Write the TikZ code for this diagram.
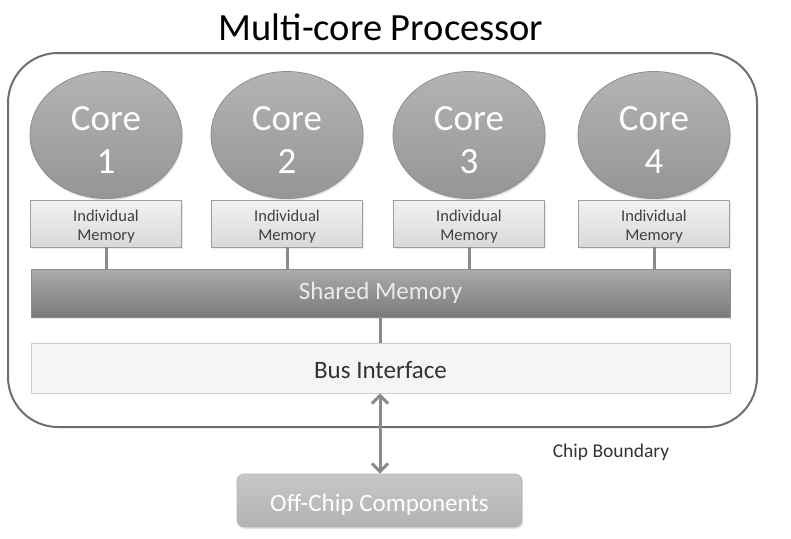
\documentclass[tikz,border=0pt]{standalone}
\usepackage{fontspec}
\setmainfont{Carlito}
\usetikzlibrary{shapes.geometric,arrows.meta,shadows}
\definecolor{coregray}{HTML}{A6A6A6}
\definecolor{edgegray}{HTML}{8E8E8E}
\definecolor{linegray}{HTML}{8A8A8A}
\definecolor{framegray}{HTML}{6E6E6E}
\newcommand{\lowered}[2]{\raisebox{#1}[\height][\depth]{#2}}
\newcommand{\twolines}[3]{\lowered{#1}{\begin{tabular}{@{}c@{}}#2\\#3\end{tabular}}}
\begin{document}
\begin{tikzpicture}[x=1pt, y=-1pt, line join=round,
		core/.style={ellipse, minimum width=152pt, minimum height=127pt, inner sep=0pt,
			top color=coregray!85!white, bottom color=coregray!90!black, draw=edgegray, line width=0.8pt,
			text=white, font=\fontsize{37}{43}\selectfont,
			drop shadow={opacity=0.2, shadow xshift=1pt, shadow yshift=-2pt}},
		membox/.style={rectangle, minimum width=151pt, minimum height=47pt, inner sep=0pt,
			top color=white!95!black, bottom color=white!85!black, draw=white!62!black, line width=0.8pt,
			text=black!75, font=\fontsize{16.5}{18.5}\selectfont,
			drop shadow={opacity=0.15, shadow xshift=1pt, shadow yshift=-2pt}},
		link/.style={linegray, line width=3pt}]
	\useasboundingbox (0,0) rectangle (791,538);
	% chip boundary
	\draw[framegray, line width=2pt, rounded corners=50pt] (8,53) rectangle (757,427);
	\node (title) at (381,27) {\fontsize{38.5}{44}\selectfont Multi-core Processor};
	% cores and their own memories
	\foreach \i/\x in {1/106, 2/287, 3/469, 4/654} {
		\node[core] (core\i) at (\x,135) {\twolines{-8pt}{Core}{\i}};
		\node[membox] (mem\i) at (\x,223.5) {\twolines{-4pt}{Individual}{Memory}};
	}
	\node[rectangle, minimum width=699pt, minimum height=48pt, inner sep=0pt,
		top color=black!33, bottom color=black!52, draw=black!45, line width=0.8pt,
		text=white!92!black, font=\fontsize{25}{30}\selectfont,
		drop shadow={opacity=0.2, shadow xshift=1pt, shadow yshift=-2pt}] (shared) at (380.5,293) {Shared Memory};
	\node[rectangle, minimum width=699pt, minimum height=50pt, inner sep=0pt,
		fill=white!96!black, draw=white!80!black, line width=0.8pt,
		text=black!80, font=\fontsize{25}{30}\selectfont] (bus) at (380.5,368) {\lowered{-2pt}{Bus Interface}};
	\foreach \i in {1,...,4}
		\draw[link] (mem\i.south) -- (mem\i.south |- shared.north);
	\draw[link] (shared.south -| 380,0) -- (bus.north -| 380,0);
	% off the chip
	\node[rectangle, rounded corners=7pt, minimum width=285pt, minimum height=53pt, inner sep=0pt,
		top color=black!22, bottom color=black!30, draw=black!28, line width=0.8pt,
		text=white, font=\fontsize{25}{30}\selectfont,
		drop shadow={opacity=0.2, shadow xshift=1pt, shadow yshift=-2pt}] (offchip) at (379.5,500.5) {\lowered{-4pt}{Off-Chip Components}};
	\node[text=black!80, font=\fontsize{19.5}{24}\selectfont] (chipb) at (611,452) {Chip Boundary};
	\draw[linegray, line width=3pt, {Straight Barb[length=8pt, width=16pt]}-{Straight Barb[length=8pt, width=16pt]}]
		(bus.south -| 380,0) -- (offchip.north -| 380,0);
\end{tikzpicture}
\end{document}
